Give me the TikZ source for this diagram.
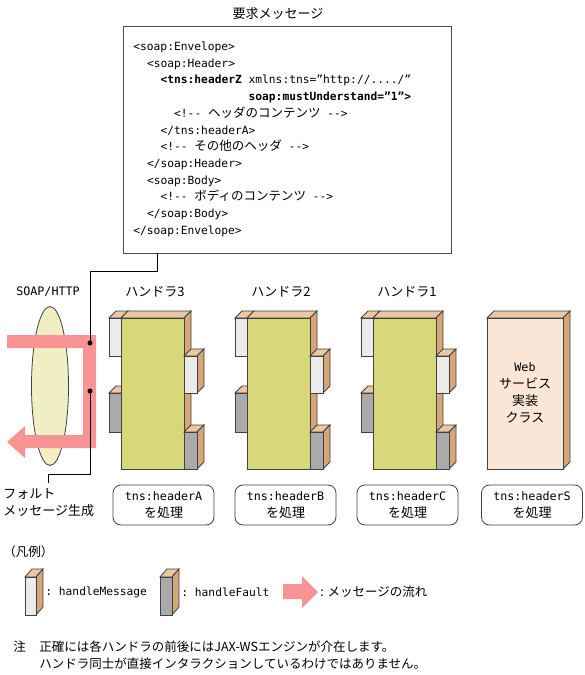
\documentclass[tikz,border=0pt]{standalone}
\usepackage{fontspec}
\setmainfont{Noto Sans CJK JP}
\setmonofont{DejaVu Sans Mono}[Scale=0.9]
\usepackage{tikz}
\usetikzlibrary{shapes.geometric}
\usetikzlibrary{positioning}
\usetikzlibrary{calc}
\definecolor{flowpink}{HTML}{F89393}
\definecolor{soapyellow}{HTML}{F0EEC2}
\definecolor{bodygreen}{HTML}{D8D77A}
\definecolor{tantop}{HTML}{EBC7A3}
\definecolor{tanside}{HTML}{D5A678}
\definecolor{msggray}{HTML}{EBEBEB}
\definecolor{faultgray}{HTML}{AAAAAA}
\definecolor{webpeach}{HTML}{F9E6D7}
\tikzset{every picture/.style={x=1pt,y=-1pt,line width=0.8pt},
  every node/.style={font=\fontsize{13}{17}\selectfont},
  edge3d/.style={draw=black!75},
  topface/.style={edge3d,fill=tantop},
  sideface/.style={edge3d,fill=tanside},
  msgbox/.style={edge3d,fill=msggray},
  faultbox/.style={edge3d,fill=faultgray},
  handlerbody/.style={edge3d,fill=bodygreen},
  codeline/.style={anchor=base west,inner sep=0pt,font=\fontsize{12.5}{17}\selectfont\ttfamily},
  legendtext/.style={anchor=west,inner sep=0pt,font=\fontsize{12.5}{17}\selectfont\ttfamily},
  notetext/.style={anchor=west,inner sep=0pt,font=\fontsize{12.5}{17}\selectfont},
  procbox/.style={draw=black!75,rounded corners=8pt,minimum width=101pt,minimum height=40pt,align=center,inner sep=1pt},
  flow/.style={fill=flowpink}}
\newcommand\jp[1]{{\rmfamily #1}}

\begin{document}
\begin{tikzpicture}
\useasboundingbox (0,0) rectangle (585,675);

% request message
\node (req) at (278,14) {要求メッセージ};
\node (msg) at (287,139.5) [draw=black!70,minimum width=328pt,minimum height=227pt] {};
\node[codeline] (l1) at (133,50.5) {<soap:Envelope>};
\node[codeline] (l2) at (146.6,67.2) {<soap:Header>};
\node[codeline] (l3) at (160.2,83.9) {\textbf{<tns:headerZ} xmlns:tns=”http://..../”};
\node[codeline] (l4) at (160.2,100.6) {\hphantom{<tns:headerZ }\textbf{soap:mustUnderstand=”1”>}};
\node[codeline] (l5) at (173.8,117.3) {<!-- \jp{ヘッダのコンテンツ} -->};
\node[codeline] (l6) at (160.2,134) {</tns:headerA>};
\node[codeline] (l7) at (160.2,150.7) {<!-- \jp{その他のヘッダ} -->};
\node[codeline] (l8) at (146.6,167.4) {</soap:Header>};
\node[codeline] (l9) at (146.6,184.1) {<soap:Body>};
\node[codeline] (l10) at (160.2,200.8) {<!-- \jp{ボディのコンテンツ} -->};
\node[codeline] (l11) at (146.6,217.5) {</soap:Body>};
\node[codeline] (l12) at (133,234.2) {</soap:Envelope>};

% transport
\node (soapn) at (48,292) {\ttfamily SOAP/HTTP};
\node (soap) at (50,386) [ellipse,draw=black!75,fill=soapyellow,minimum width=37pt,minimum height=159pt,inner sep=0pt] {};
\fill[flow] (7,335) -- (96,335) -- (96,448) -- (25,448) -- (25,458) -- (7,442) -- (25,426) -- (25,435) -- (83,435) -- (83,348) -- (7,348) -- cycle;

\fill (90,343) circle (2.5) coordinate (dtop);
\fill (90,391) circle (2.5) coordinate (dbot);
\coordinate (mfoot) at ($(msg.south west)+(35,0)$);
\draw (mfoot) -- ++(0,18) -| (dtop);
\draw (dbot) |- (48,474) -- (48,483);
\node (fault) at (3,488) [anchor=north west,align=left,inner sep=0pt] {フォルト\\メッセージ生成};

% handlers
\foreach \hx/\hn in {121/3,247/2,373/1}{
  \filldraw[topface] (\hx-12,318) -- (\hx-5,311) -- (\hx+7,311) -- (\hx,318) -- cycle;
  \filldraw[msgbox] (\hx-12,318) rectangle (\hx,356);
  \filldraw[topface] (\hx-12,393) -- (\hx-5,386) -- (\hx+7,386) -- (\hx,393) -- cycle;
  \filldraw[faultbox] (\hx-12,393) rectangle (\hx,432);
  \filldraw[topface] (\hx,318) -- (\hx+7,311) -- (\hx+70,311) -- (\hx+63,318) -- cycle;
  \filldraw[sideface] (\hx+63,318) -- (\hx+70,311) -- (\hx+70,462) -- (\hx+63,469) -- cycle;
  \filldraw[handlerbody] (\hx,318) rectangle (\hx+63,469);
  \filldraw[topface] (\hx+63,356) -- (\hx+70,349) -- (\hx+83,349) -- (\hx+76,356) -- cycle;
  \filldraw[sideface] (\hx+76,356) -- (\hx+83,349) -- (\hx+83,386) -- (\hx+76,393) -- cycle;
  \filldraw[msgbox] (\hx+63,356) rectangle (\hx+76,393);
  \filldraw[topface] (\hx+63,432) -- (\hx+70,425) -- (\hx+83,425) -- (\hx+76,432) -- cycle;
  \filldraw[sideface] (\hx+76,432) -- (\hx+83,425) -- (\hx+83,462) -- (\hx+76,469) -- cycle;
  \filldraw[faultbox] (\hx+63,432) rectangle (\hx+76,469);
  \node (h\hn) at (\hx+34,292) {ハンドラ\hn};
}

% web service class
\filldraw[topface] (487,318) -- (494,311) -- (570,311) -- (563,318) -- cycle;
\filldraw[sideface] (563,318) -- (570,311) -- (570,462) -- (563,469) -- cycle;
\filldraw[edge3d,fill=webpeach] (487,318) rectangle (563,469);
\node (web) at (525,392.5) [align=center] {\ttfamily Web\\サービス\\実装\\クラス};

\node[procbox] (pa) at (163.5,505) {\ttfamily tns:headerA\\を処理};
\node[procbox] (pb) at (285.5,505) {\ttfamily tns:headerB\\を処理};
\node[procbox] (pc) at (407.5,505) {\ttfamily tns:headerC\\を処理};
\node[procbox] (ps) at (532,505) {\ttfamily tns:headerS\\を処理};

% legend
\node (lgd) at (3,552) [notetext] {（凡例）};
\filldraw[topface] (25,577) -- (32,569) -- (43,569) -- (36,577) -- cycle;
\filldraw[sideface] (36,577) -- (43,569) -- (43,607) -- (36,615) -- cycle;
\filldraw[msgbox] (25,577) rectangle (36,615);
\node (lgm) at (45,592) [legendtext] {: handleMessage};
\filldraw[topface] (160,577) -- (167,569) -- (179,569) -- (172,577) -- cycle;
\filldraw[sideface] (172,577) -- (179,569) -- (179,607) -- (172,615) -- cycle;
\filldraw[faultbox] (160,577) rectangle (172,615);
\node (lgf) at (181,592) [legendtext] {: handleFault};
\fill[flow] (283,584) -- (302,584) -- (302,576) -- (318,592) -- (302,608) -- (302,599) -- (283,599) -- cycle;
\node (lgr) at (320,592) [notetext] {: メッセージの流れ};

% note
\node (note) at (13,647) [notetext] {注};
\node (nt1) at (39,647) [notetext] {正確には各ハンドラの前後にはJAX-WSエンジンが介在します。};
\node (nt2) at (39,664) [notetext] {ハンドラ同士が直接インタラクションしているわけではありません。};
\end{tikzpicture}
\end{document}
